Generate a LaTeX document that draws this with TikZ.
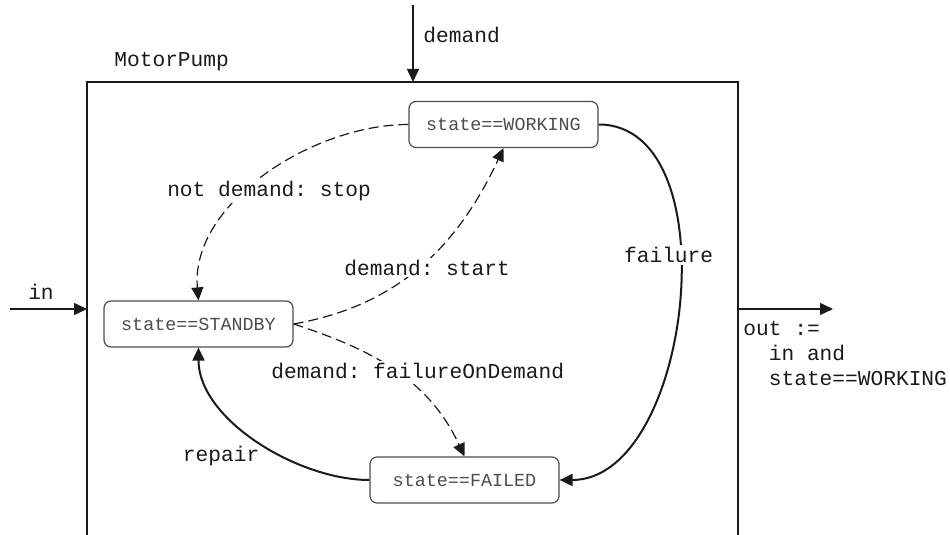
\documentclass[tikz,border=0pt]{standalone}
\usepackage{fontspec}
\setmonofont{Liberation Mono}
\usetikzlibrary{arrows.meta}
\definecolor{Ink}{HTML}{1A1A1A}
\definecolor{BoxGray}{HTML}{4D4D4D}

\begin{document}
\begin{tikzpicture}[x=0.5pt,y=0.5pt,
  statebox/.style={rectangle,rounded corners=3.5pt,draw=BoxGray,text=BoxGray,line width=0.6pt,minimum width=94.5pt,minimum height=23pt,inner sep=0pt,font=\fontsize{9.2pt}{11pt}\selectfont\ttfamily},
  lbl/.style={inner sep=1pt,text=Ink,font=\fontsize{10.6pt}{12.5pt}\selectfont\ttfamily},
  cut/.style={lbl,fill=white},
  frame/.style={line width=0.6pt,draw=Ink},
  flow/.style={-{Triangle[length=6.5pt,width=6pt]},line width=0.7pt,draw=Ink},
  trans/.style={-{Triangle[length=6.5pt,width=6pt]},line width=1pt,draw=Ink},
  guard/.style={trans,line width=0.6pt,dash pattern=on 5pt off 2.5pt}
]
\useasboundingbox (0,0) rectangle (950,535);
% states
\node[statebox] (working) at (503.5,410.5) {state==WORKING};
\node[statebox] (standby) at (198.5,211) {state==STANDBY};
\node[statebox] (failed) at (464.5,55) {state==FAILED};
% block outline and ports
\draw[frame] (87,0) -- (87,453) -- (738,453) -- (738,0);
\node[lbl,anchor=west] (block) at (112,473) {MotorPump};
\coordinate (dsrc) at (413,530);
\coordinate (dport) at (413,453);
\coordinate (isrc) at (10,226);
\coordinate (iport) at (87,226);
\coordinate (oport) at (738,226);
\coordinate (odst) at (833,226);
\draw[flow] (dsrc) -- (dport);
\node[lbl,anchor=west] (dlbl) at (421,500) {demand};
\draw[flow] (isrc) -- (iport);
\node[lbl] (ilbl) at (41,243) {in};
\draw[flow] (oport) -- (odst);
\node[lbl,anchor=base west,align=left] (olbl) at (741,149) {out :=\\~~in and\\~~state==WORKING};
% transitions
\draw[guard] (working.west) to[out=180,in=95,looseness=0.9] node[cut,pos=0.55,xshift=8.5pt,yshift=-2.5pt] {not demand: stop} (standby.north);
\draw[guard] (standby.east) to[out=10,in=-115] node[cut,pos=0.5,xshift=3pt,yshift=-1pt] {demand: start} (working.south);
\draw[guard] (standby.east) to[out=-18,in=115] node[cut,pos=0.5,xshift=11pt] {demand: failureOnDemand} (failed.north);
\draw[trans] (working.east) to[out=0,in=0,looseness=0.95] node[cut,pos=0.41,xshift=-6pt] {failure} (failed.east);
\draw[trans] (failed.west) to[out=180,in=-90,looseness=0.85] node[lbl,pos=0.4,anchor=east,xshift=-8pt,yshift=-1pt] {repair} (standby.south);
\end{tikzpicture}
\end{document}
